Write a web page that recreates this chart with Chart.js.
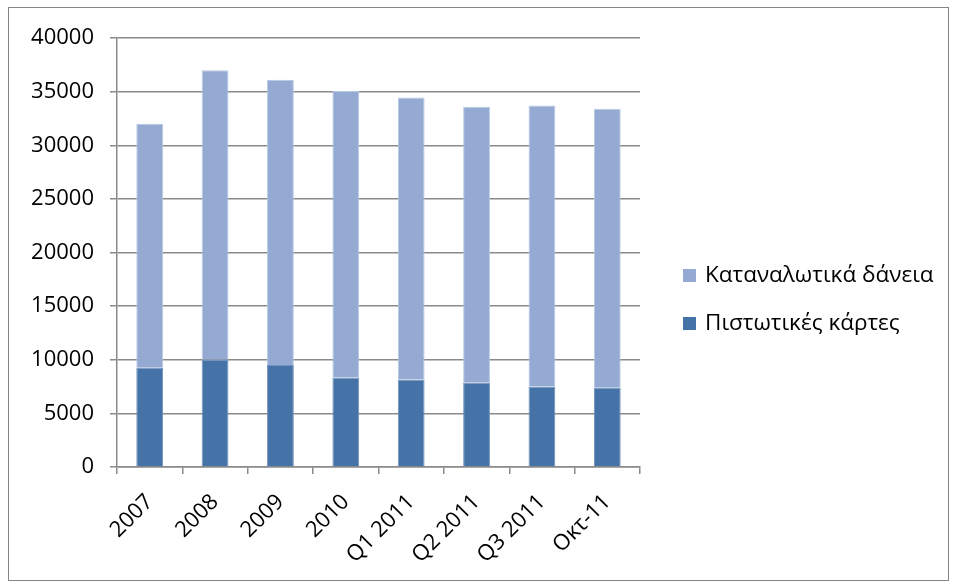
<!DOCTYPE html>
<html>
<head>
<meta charset="utf-8">
<script src="https://cdn.jsdelivr.net/npm/chart.js@4/dist/chart.umd.min.js"></script>
<style>
  html, body { margin: 0; padding: 0; background: #fff; }
  #frame {
    position: absolute; left: 8px; top: 7px;
    width: 941px; height: 574px;
    box-sizing: border-box; border: 1px solid #868686;
  }
  #chart { display: block; }
</style>
</head>
<body>
<div id="frame"><canvas id="chart" width="939" height="572"></canvas></div>
<script>
// Periods on the horizontal axis
const categories = ['2007', '2008', '2009', '2010', 'Q1 2011', 'Q2 2011', 'Q3 2011', 'Οκτ-11'];
// Credit card balances (lower segment)
const creditCards = [9250, 10000, 9500, 8350, 8150, 7850, 7500, 7400];
// Consumer loan balances (upper segment, stacked on top)
const consumerLoans = [22750, 27000, 26600, 26700, 26300, 25750, 26200, 26000];
// Value axis
const yTicks = [0, 5000, 10000, 15000, 20000, 25000, 30000, 35000, 40000];

const seriesNames = ['Πιστωτικές κάρτες', 'Καταναλωτικά δάνεια'];
const seriesColors = ['#4573A7', '#94AAD3'];
const seriesEdges = ['#6F92BE', '#B7C8E4'];

const FONT = { family: '"Open Sans", "Noto Sans", sans-serif', size: 22 };
const LEGEND_SIZE = 22.5;
const AXIS_GREY = '#8a8a8a';

// Legend on the right, top series listed first
const sideLegend = {
  id: 'sideLegend',
  afterDraw(chart) {
    const { ctx, chartArea } = chart;
    const items = chart.data.datasets.map(d => ({ text: d.label, color: d.backgroundColor })).reverse();
    const x = chartArea.right + 43;
    const rowGap = 48;
    const midY = chart.height / 2 + 5;
    const y0 = midY - rowGap * (items.length - 1) / 2;
    ctx.save();
    ctx.font = `${LEGEND_SIZE}px ${FONT.family}`;
    ctx.textBaseline = 'middle';
    ctx.textAlign = 'left';
    items.forEach((it, i) => {
      const y = y0 + i * rowGap;
      ctx.fillStyle = it.color;
      ctx.fillRect(x, y - 6, 13, 13);
      ctx.fillStyle = '#000';
      ctx.fillText(it.text, x + 22, y + 1);
    });
    ctx.restore();
  }
};

new Chart(document.getElementById('chart'), {
  type: 'bar',
  data: {
    labels: categories,
    datasets: [
      { label: seriesNames[0], data: creditCards, backgroundColor: seriesColors[0], borderColor: seriesEdges[0], borderWidth: 1 },
      { label: seriesNames[1], data: consumerLoans, backgroundColor: seriesColors[1], borderColor: seriesEdges[1], borderWidth: 1 }
    ]
  },
  options: {
    responsive: false,
    animation: false,
    devicePixelRatio: 1,
    layout: { padding: { top: 30, right: 308, bottom: 0, left: 0 } },
    datasets: { bar: { barPercentage: 0.41, categoryPercentage: 1 } },
    plugins: { legend: { display: false }, tooltip: { enabled: false } },
    scales: {
      x: {
        stacked: true,
        grid: { offset: true, drawOnChartArea: false, drawTicks: true, tickLength: 7, color: AXIS_GREY, lineWidth: 1.5 },
        border: { color: AXIS_GREY, width: 1.5 },
        ticks: { color: '#000', font: FONT, minRotation: 45, maxRotation: 45, padding: 15, autoSkip: false },
        afterFit(scale) { scale.height = 113; }
      },
      y: {
        stacked: true,
        min: yTicks[0],
        max: yTicks[yTicks.length - 1],
        afterBuildTicks(scale) { scale.ticks = yTicks.map(v => ({ value: v })); },
        grid: { color: AXIS_GREY, lineWidth: 1.5, tickLength: 7 },
        border: { color: AXIS_GREY, width: 1.5 },
        ticks: { color: '#000', font: FONT, padding: 16, callback: v => String(v) },
        afterFit(scale) { scale.width = 108; }
      }
    }
  },
  plugins: [sideLegend]
});
</script>
</body>
</html>
